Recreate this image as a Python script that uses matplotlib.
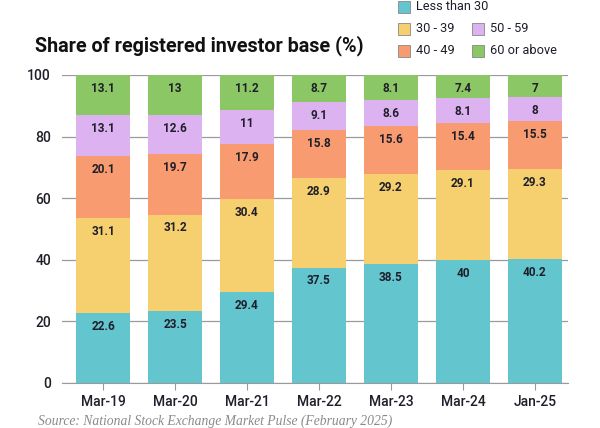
import matplotlib.pyplot as plt
import numpy as np

# data
periods = ['Mar-19', 'Mar-20', 'Mar-21', 'Mar-22', 'Mar-23', 'Mar-24', 'Jan-25']
under_30 = [22.6, 23.5, 29.4, 37.5, 38.5, 40, 40.2]
age_30_39 = [31.1, 31.2, 30.4, 28.9, 29.2, 29.1, 29.3]
age_40_49 = [20.1, 19.7, 17.9, 15.8, 15.6, 15.4, 15.5]
age_50_59 = [13.1, 12.6, 11, 9.1, 8.6, 8.1, 8]
age_60_up = [13.1, 13, 11.2, 8.7, 8.1, 7.4, 7]

series = [
    ('Less than 30', under_30, '#63c5cd'),
    ('30 - 39', age_30_39, '#f6d06f'),
    ('40 - 49', age_40_49, '#f89b70'),
    ('50 - 59', age_50_59, '#dcb2f1'),
    ('60 or above', age_60_up, '#8cc766'),
]

plt.rcParams['font.family'] = ['Roboto', 'DejaVu Sans']

fig = plt.figure(figsize=(6, 4.28), dpi=100)
ax = fig.add_axes([62 / 600, 45 / 428, 506 / 600, 308 / 428])

x = np.arange(len(periods))
bottom = np.zeros(len(periods))
for name, vals, col in series:
    vals = np.array(vals, dtype=float)
    ax.bar(x, vals, bottom=bottom, width=0.74, color=col, zorder=2)
    for xi, b, v in zip(x, bottom, vals):
        ax.annotate(f'{v:g}', (xi, b + v), xytext=(0, -5), textcoords='offset points',
                    ha='center', va='top', fontsize=8.5, fontweight='bold', color='#1f1f2a')
    bottom += vals

ax.set_xlim(-0.57, 6.46)
ax.set_ylim(0, 100)
ax.set_yticks([0, 20, 40, 60, 80, 100])
ax.yaxis.grid(True, color='#9a9a9a', linewidth=0.9, zorder=0)
ax.set_axisbelow(True)
for s in ['left', 'right', 'top']:
    ax.spines[s].set_visible(False)
ax.spines['bottom'].set_color('#9a9a9a')
ax.tick_params(axis='y', length=0, labelsize=10, pad=8, labelcolor='#1f1f2a')
ax.tick_params(axis='x', length=5, color='#9a9a9a', labelsize=10, pad=4, labelcolor='#1f1f2a')
ax.set_xticks(x)
ax.set_xticklabels(periods)
for lbl in ax.get_xticklabels() + ax.get_yticklabels():
    lbl.set_fontweight('medium')

fig.text(35 / 600, 1 - 46 / 428, 'Share of registered investor base (%)', fontsize=14.2,
         fontweight='bold', color='#111111', va='center')

# legend, built by hand to mimic the layout
legend_items = [
    ('Less than 30', '#63c5cd', 398, 7),
    ('30 - 39', '#f6d06f', 398, 29),
    ('50 - 59', '#dcb2f1', 472, 29),
    ('40 - 49', '#f89b70', 398, 51),
    ('60 or above', '#8cc766', 472, 51),
]
for name, col, px, py in legend_items:
    fig.patches.append(plt.Rectangle((px / 600, 1 - (py + 6) / 428), 12 / 600, 12 / 428,
                                     transform=fig.transFigure, facecolor=col,
                                     edgecolor='#888888', linewidth=0.6))
    fig.text((px + 18) / 600, 1 - py / 428, name, fontsize=9.2, color='#1f1f2a', va='center')

fig.text(38 / 600, 1 - 421 / 428, 'Source: National Stock Exchange Market Pulse (February 2025)',
         fontsize=9.8, style='italic', family='Liberation Serif', color='#8a8a8a', va='center')

fig.savefig('out.png', dpi=100)
